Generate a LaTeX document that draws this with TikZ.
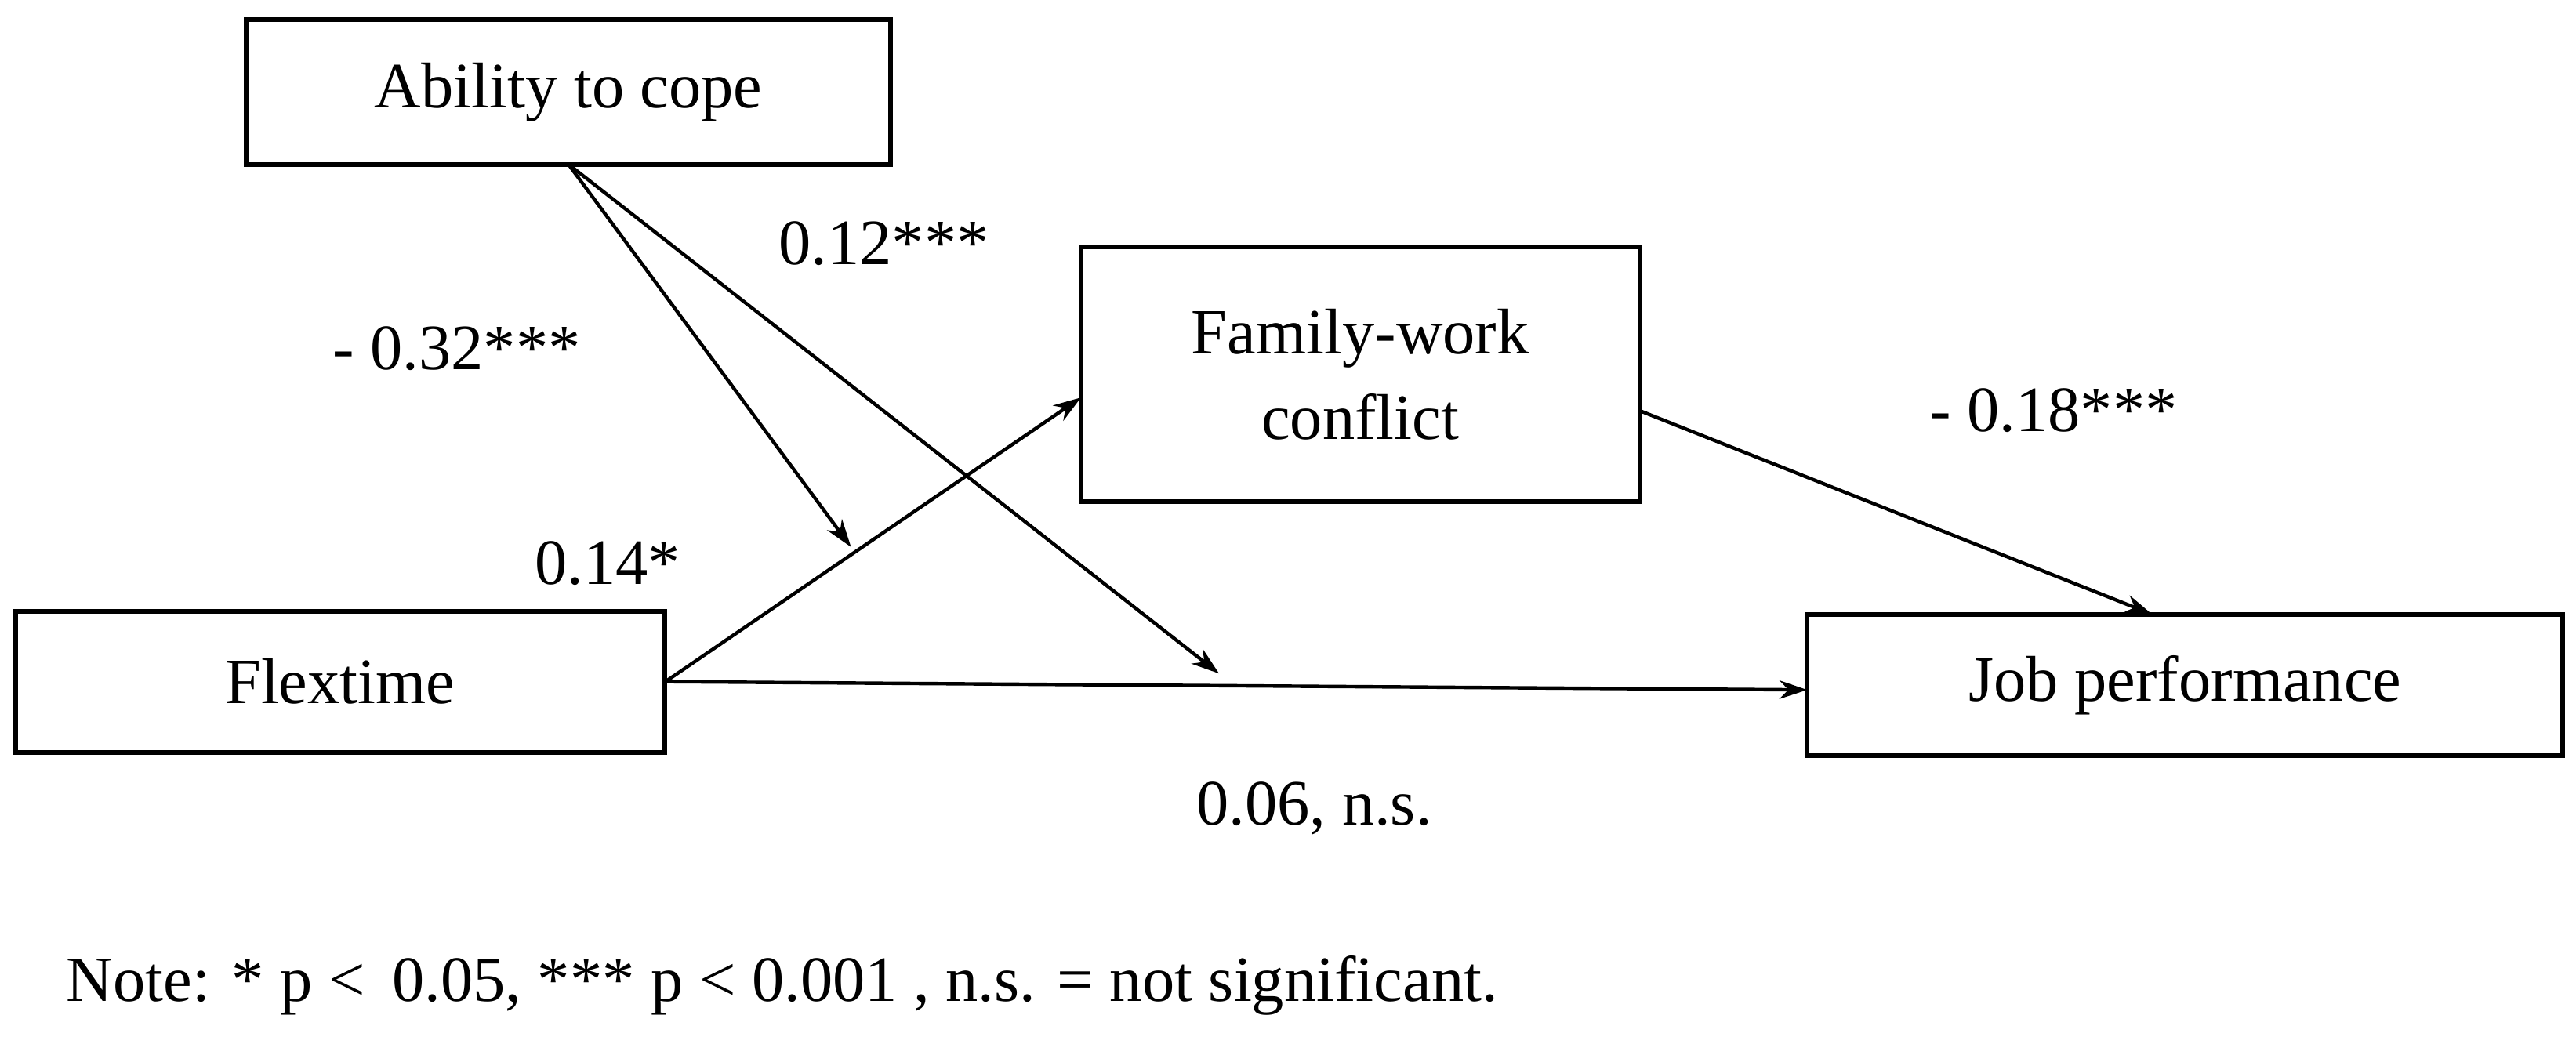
\documentclass[tikz,border=0pt]{standalone}
\usepackage{fontspec}
\usetikzlibrary{arrows.meta}
\setmainfont{Liberation Serif}
\begin{document}
\begin{tikzpicture}[x=0.05cm,y=-0.05cm,
  box/.style={draw,line width=4pt,inner sep=0pt,align=center},
  lbl/.style={font=\fontsize{56}{66}\selectfont},
  arr/.style={line width=3pt,-{Stealth[length=24pt,width=16pt]}},
  every node/.style={font=\fontsize{56}{66}\selectfont}]
\useasboundingbox (0,0) rectangle (1568,642);
\node[box,minimum width=392*0.05cm,minimum height=88*0.05cm] (ab) at (346,56) {Ability to cope};
\node[box,minimum width=340*0.05cm,minimum height=155*0.05cm] (fw) at (828,228) {Family-work\\[8pt]conflict};
\node[box,minimum width=395*0.05cm,minimum height=86*0.05cm] (fl) at (207,415) {Flextime};
\node[box,minimum width=460*0.05cm,minimum height=86*0.05cm] (jp) at (1330,417) {Job performance};
\coordinate (flr) at (405,415);
\coordinate (abb) at (346,100);
\coordinate (m1) at (518,333);
\coordinate (m2) at (742,410);
\coordinate (fwl) at (658,242);
\coordinate (fwr) at (998,250);
\coordinate (jpt) at (1310,374);
\coordinate (jpl) at (1100,420);
\draw[arr] (flr) -- (fwl);
\draw[arr] (flr) -- (jpl);
\draw[arr] (abb) -- (m1);
\draw[arr] (abb) -- (m2);
\draw[arr] (fwr) -- (jpt);
\node[lbl] (l1) at (538,148) {0.12***};
\node[lbl] (l2) at (278,212) {- 0.32***};
\node[lbl] (l3) at (370,343) {0.14*};
\node[lbl] (l4) at (1250,250) {- 0.18***};
\node[lbl] (l5) at (800,492) {0.06, n.s.};
\node[lbl,anchor=west] (note) at (38,600) {Note: * p <\, 0.05, *** p < 0.001 , n.s. = not significant.};
\end{tikzpicture}
\end{document}
